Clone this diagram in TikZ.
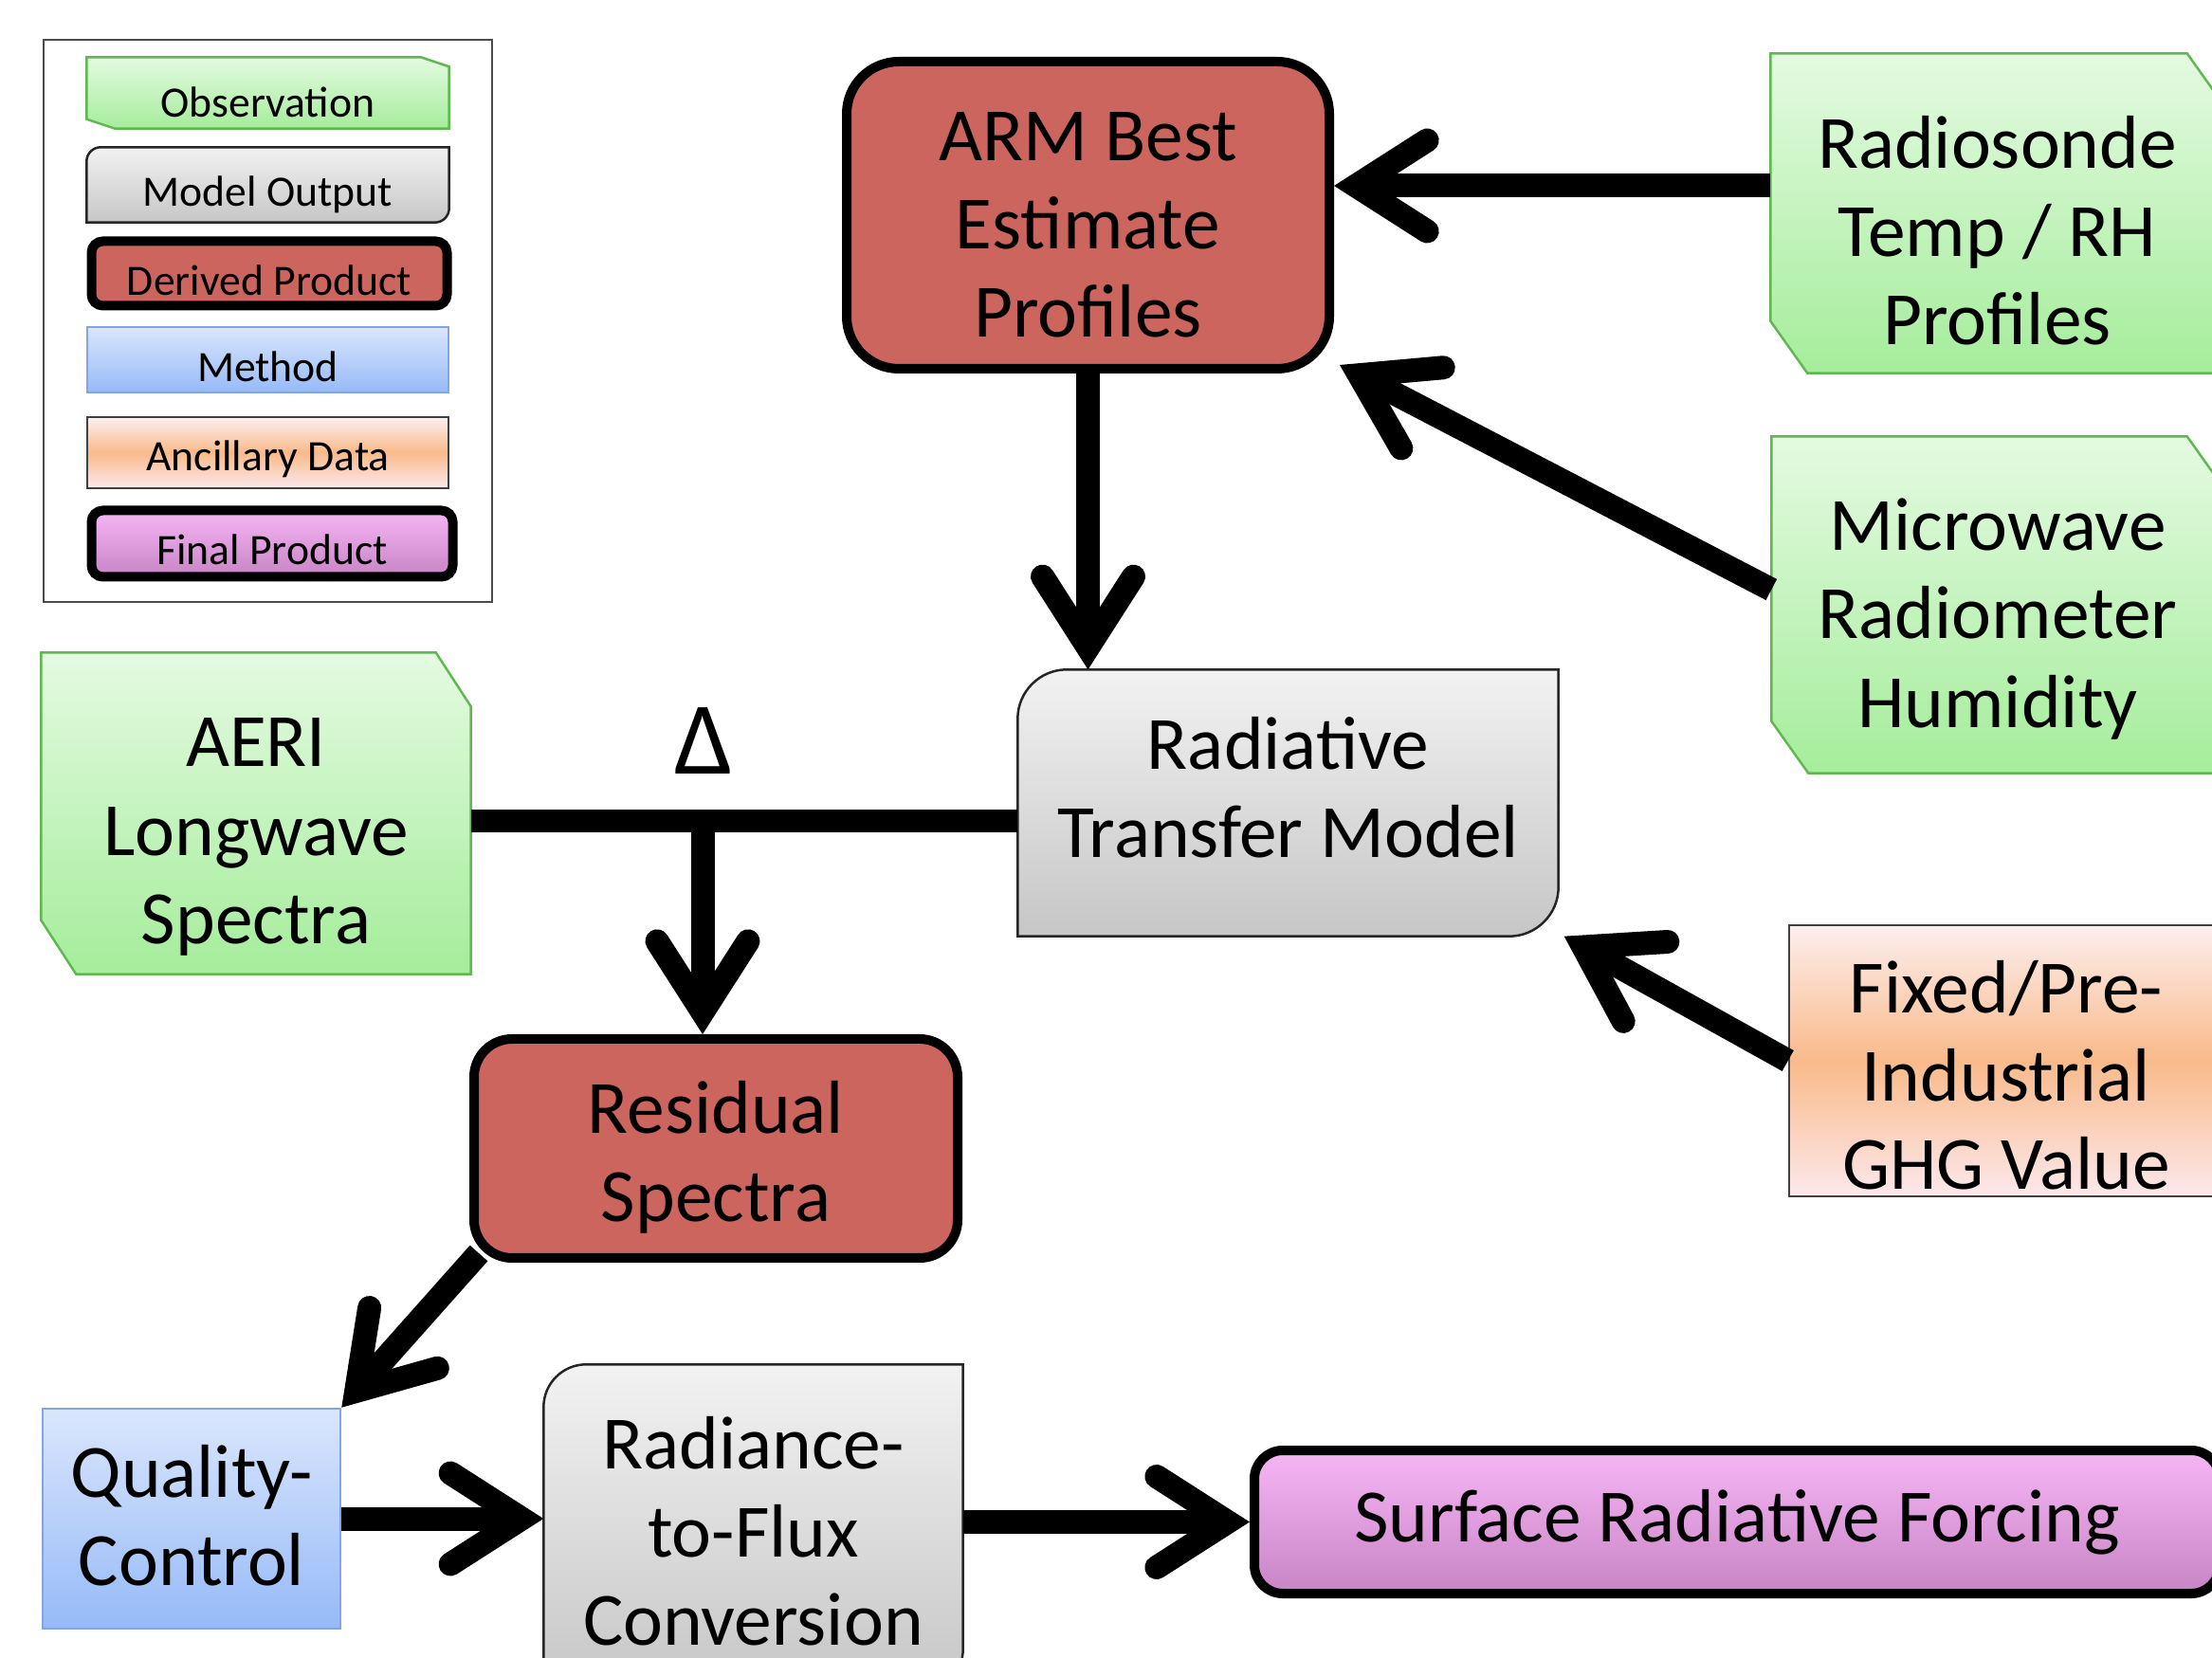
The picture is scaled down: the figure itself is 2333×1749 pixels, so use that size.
\documentclass[tikz,border=0pt]{standalone}
\usepackage{fontspec}
\setmainfont{Carlito}
\usetikzlibrary{arrows.meta,backgrounds,calc}
\definecolor{dred}{RGB}{205,101,95}
\definecolor{obstop}{RGB}{228,250,225}
\definecolor{obsbot}{RGB}{165,237,155}
\definecolor{obsline}{RGB}{95,185,80}
\definecolor{modtop}{RGB}{242,242,242}
\definecolor{modbot}{RGB}{198,198,198}
\definecolor{mettop}{RGB}{218,230,252}
\definecolor{metbot}{RGB}{150,186,248}
\definecolor{metline}{RGB}{130,165,230}
\definecolor{anctop}{RGB}{252,238,238}
\definecolor{ancmid}{RGB}{249,186,138}
\definecolor{ancbot}{RGB}{252,232,236}
\definecolor{fintop}{RGB}{246,182,246}
\definecolor{finbot}{RGB}{200,132,196}
\newcommand\obspath[3]{%
  \path[obsfill] (#1.north west) -- ([xshift=-#2]#1.north east) -- ([yshift=-#3]#1.north east)
    -- (#1.south east) -- ([xshift=#2]#1.south west) -- ([yshift=#3]#1.south west) -- cycle;}
\newcommand\modpath[2]{%
  \path[modfill] ([yshift=-#2]#1.north west) arc[start angle=180, end angle=90, radius=#2]
    -- (#1.north east) -- ([yshift=#2]#1.south east) arc[start angle=0, end angle=-90, radius=#2]
    -- (#1.south west) -- cycle;}
\newcommand\boxtxt[4]{\node[#1, yshift=#3] (#2-t) at (#2.center) {#4};}
\begin{document}
\begin{tikzpicture}[x=0.1mm,y=-0.1mm,
  shp/.style={rectangle, inner sep=0pt},
  txt/.style={rectangle, inner sep=0pt, align=center, font=\fontsize{22.6pt}{26.5pt}\selectfont},
  ltxt/.style={rectangle, inner sep=0pt, align=center, font=\fontsize{13pt}{15pt}\selectfont},
  derived/.style={draw=black, line width=1mm, fill=dred, rounded corners=#1},
  final/.style={draw=black, line width=1mm, top color=fintop, bottom color=finbot, rounded corners=#1},
  method/.style={draw=metline, line width=0.25mm, top color=mettop, bottom color=metbot},
  ancil/.style={draw=black!75, line width=0.25mm, top color=anctop, bottom color=ancbot, middle color=ancmid},
  obsfill/.style={draw=obsline, line width=0.25mm, top color=obstop, bottom color=obsbot},
  modfill/.style={draw=black!85, line width=0.25mm, top color=modtop, bottom color=modbot},
  legframe/.style={draw=black!70, line width=0.25mm, fill=white},
  arr/.style={line width=2.5mm, -{Straight Barb[length=7.5mm,width=9.6mm,line cap=round,line join=miter]}},
  conn/.style={line width=2.4mm}
]
\useasboundingbox (0,0) rectangle (2333,1749);

% legend item shapes
\node[shp, minimum width=38.1mm, minimum height=7.4mm] (legobs) at (282.5,98) {};
\node[shp, minimum width=38.1mm, minimum height=7.8mm] (legmod) at (282.5,195) {};
\node[shp, minimum width=37.5mm, minimum height=6.8mm, derived=1.2mm] (legder) at (284,288.5) {};
\node[shp, minimum width=38.1mm, minimum height=6.9mm, method] (legmet) at (282.5,379.5) {};
\node[shp, minimum width=38.1mm, minimum height=7.5mm, ancil] (leganc) at (282.5,477.5) {};
\node[shp, minimum width=38.1mm, minimum height=7.0mm, final=1.2mm] (legfin) at (287,573.5) {};

% main node shapes
\node[shp, minimum width=50.9mm, minimum height=32.4mm, derived=5.5mm] (arm) at (1147.5,227) {};
\node[shp, minimum width=47.7mm, minimum height=33.6mm] (rs) at (2106.5,225) {};
\node[shp, minimum width=47.6mm, minimum height=35.4mm] (mwr) at (2107,638) {};
\node[shp, minimum width=56.9mm, minimum height=28mm] (rtm) at (1358.5,847) {};
\node[shp, minimum width=45.2mm, minimum height=33.8mm] (aeri) at (270,858) {};
\node[inner sep=0pt, font=\fontsize{31pt}{34pt}\selectfont] (delta) at (742,782) {Δ};
\node[shp, minimum width=51mm, minimum height=23.1mm, derived=4mm] (res) at (755,1211.5) {};
\node[shp, minimum width=45.8mm, minimum height=28.6mm, ancil] (fix) at (2116,1119) {};
\node[shp, minimum width=31.4mm, minimum height=23.2mm, method] (qc) at (202,1602) {};
\node[shp, minimum width=44.1mm, minimum height=34.4mm] (rtf) at (794.5,1612) {};
\node[shp, minimum width=101.8mm, minimum height=15.1mm, final=3mm] (srf) at (1832,1605.5) {};

% texts
\boxtxt{ltxt}{legobs}{-1mm}{Observation}
\boxtxt{ltxt}{legmod}{-1mm}{Model Output}
\boxtxt{ltxt}{legder}{-0.7mm}{Derived Product}
\boxtxt{ltxt}{legmet}{-0.7mm}{Method}
\boxtxt{ltxt}{leganc}{-0.7mm}{Ancillary Data}
\boxtxt{ltxt}{legfin}{-0.6mm}{Final Product}
\boxtxt{txt}{arm}{-1.0mm}{ARM Best\\Estimate\\Profiles}
\boxtxt{txt}{rs}{-1.8mm}{Radiosonde\\Temp / RH\\Profiles}
\boxtxt{txt}{mwr}{-1.5mm}{Microwave\\Radiometer\\Humidity}
\boxtxt{txt}{rtm}{1.6mm}{Radiative\\Transfer Model}
\boxtxt{txt}{aeri}{-2.5mm}{AERI\\Longwave\\Spectra}
\boxtxt{txt}{res}{-0.9mm}{Residual\\Spectra}
\boxtxt{txt}{fix}{-1.5mm}{Fixed/Pre-\\Industrial\\GHG Value}
\boxtxt{txt}{qc}{0.3mm}{Quality-\\Control}
\boxtxt{txt}{rtf}{-0.3mm}{Radiance-\\to-Flux\\Conversion}
\boxtxt{txt}{srf}{0mm}{Surface Radiative Forcing}

% shapes behind texts
\begin{scope}[on background layer]
  \node[legframe, minimum width=47.3mm, minimum height=59.3mm] (legend) at (282.5,338.5) {};
  \obspath{legobs}{3mm}{1mm}
  \modpath{legmod}{1.5mm}
  \obspath{rs}{3.9mm}{5.5mm}
  \obspath{mwr}{3.9mm}{5.5mm}
  \obspath{aeri}{3.7mm}{5.7mm}
  \modpath{rtm}{5.2mm}
  \modpath{rtf}{4.5mm}
\end{scope}

% connectors
\coordinate (rsout) at ([yshift=2.9mm]rs.west);
\draw[arr] (rsout) -- (rsout -| arm.east);
\coordinate (mwrout) at ([yshift=1.6mm]mwr.west);
\coordinate (armin) at ([xshift=0.6mm,yshift=0.9mm]arm.south east);
\draw[arr] (mwrout) -- (armin);
\draw[arr] (arm.south) -- (arm.south |- rtm.north);
\coordinate (rtmin) at ([xshift=0.6mm]rtm.south east);
\draw[arr] (fix.west) -- (rtmin);
\coordinate (jn) at (741,866);
\draw[conn] (aeri.east |- jn) -- (rtm.west |- jn);
\draw[arr] (jn) -- (jn |- res.north);
\coordinate (resout) at ([xshift=1mm,yshift=1mm]res.south west);
\draw[arr] (resout) -- (qc.north east);
\draw[arr] (qc.east) -- (qc.east -| rtf.west);
\draw[arr] (srf.west -| rtf.east) -- (srf.west);
\end{tikzpicture}
\end{document}
